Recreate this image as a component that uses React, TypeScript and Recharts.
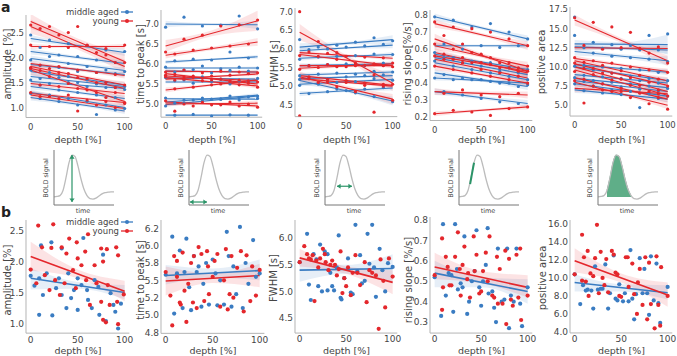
import React from "react";
import { Area, ComposedChart, Line, Scatter, XAxis, YAxis } from "recharts";

const BLUE = "#3a7cc2";
const RED = "#e4272c";
const GREEN = "#2b9468";
const AXIS = "#b4b4b4";
const TXT = "#454545";
const FONT = "'DejaVu Sans', sans-serif";

const DEPTH_TICKS = [0, 50, 100];
// subjects alternate between these two sampling grids
const DEPTH_A = [0, 20, 40, 60, 80, 100];
const DEPTH_B = [10, 30, 50, 70, 90];

// ---------- row a: one fit per subject [at 0 %, at 100 %, band half-width at 0 / 50 / 100 %]
const ampMidFits = [
  [2.38, 2.1, 0.07, 0.03, 0.07], [2.12, 1.88, 0.06, 0.03, 0.06], [1.98, 1.74, 0.06, 0.03, 0.06],
  [1.86, 1.66, 0.05, 0.025, 0.05], [1.72, 1.45, 0.06, 0.03, 0.06], [1.62, 1.42, 0.05, 0.025, 0.05],
  [1.52, 1.38, 0.05, 0.025, 0.05], [1.42, 1.18, 0.06, 0.03, 0.06], [1.3, 1.0, 0.06, 0.03, 0.06],
  [1.2, 0.93, 0.06, 0.03, 0.06],
];
const ampMidPoints = [
  [2.45, 2.35, 2.28, 2.24, 2.15, 2.12], [2.2, 2.05, 2.02, 1.95, 1.9], [1.95, 2.02, 1.88, 1.82, 1.75, 1.72],
  [1.84, 1.8, 1.72, 1.7, 1.68], [1.75, 1.7, 1.62, 1.55, 1.5, 1.42], [1.58, 1.6, 1.5, 1.47, 1.4],
  [1.55, 1.48, 1.5, 1.42, 1.4, 1.36], [1.45, 1.35, 1.3, 1.25, 1.2], [1.28, 1.25, 1.18, 1.12, 1.05, 0.98],
  [1.18, 1.12, 1.05, 0.86, 0.95],
];
const ampYoungFits = [
  [2.72, 1.92, 0.15, 0.06, 0.15], [2.62, 1.82, 0.14, 0.06, 0.14], [2.22, 2.22, 0.05, 0.02, 0.05],
  [1.88, 1.64, 0.06, 0.03, 0.06], [1.82, 1.45, 0.07, 0.03, 0.07], [1.78, 1.38, 0.07, 0.03, 0.07],
  [1.75, 1.12, 0.1, 0.04, 0.1], [1.48, 1.28, 0.06, 0.03, 0.06], [1.28, 1.1, 0.05, 0.025, 0.05],
  [1.25, 0.98, 0.08, 0.04, 0.08],
];
const ampYoungPoints = [
  [2.65, 2.62, 2.5, 2.25, 2.05, 1.9], [2.58, 2.45, 2.62, 2.1, 1.9], [2.25, 2.22, 2.2, 2.24, 2.18, 2.25],
  [1.85, 1.82, 1.75, 1.7, 1.66], [1.8, 1.78, 1.68, 1.58, 1.5, 1.45], [1.74, 1.7, 1.6, 1.5, 1.4],
  [1.78, 1.62, 1.48, 1.35, 1.2, 1.1], [1.45, 1.42, 1.38, 1.3, 1.3], [1.3, 1.22, 1.25, 1.15, 1.12, 1.08],
  [1.22, 1.18, 0.93, 1.05, 1.0],
];

const ttpMidFits = [
  [7.0, 6.98, 0.08, 0.03, 0.1], [6.05, 6.18, 0.05, 0.02, 0.05], [5.9, 5.9, 0.04, 0.02, 0.04],
  [5.82, 5.8, 0.04, 0.02, 0.04], [5.65, 5.62, 0.04, 0.02, 0.04], [5.55, 5.55, 0.04, 0.02, 0.04],
  [5.13, 5.12, 0.03, 0.015, 0.03], [5.05, 5.22, 0.05, 0.02, 0.05], [4.98, 5.2, 0.05, 0.02, 0.05],
  [4.72, 4.72, 0.02, 0.01, 0.02],
];
const ttpMidPoints = [
  [6.92, 7.17, 6.95, 6.97, 7.2, 6.88], [6.08, 6.12, 6.1, 6.3, 6.15], [5.92, 5.85, 5.95, 5.88, 5.92, 5.9],
  [5.8, 5.86, 5.78, 5.84, 5.82], [5.66, 5.6, 5.68, 5.62, 5.58, 5.64], [5.58, 5.52, 5.56, 5.5, 5.57],
  [5.15, 5.1, 5.15, 5.12, 5.1, 5.14], [5.02, 5.1, 5.12, 5.2, 5.18], [4.95, 5.02, 5.08, 5.12, 5.16, 5.2],
  [4.72, 4.74, 4.7, 4.73, 4.72],
];
const ttpYoungFits = [
  [6.45, 7.08, 0.15, 0.07, 0.25], [6.22, 6.55, 0.08, 0.04, 0.1], [5.82, 5.8, 0.05, 0.02, 0.05],
  [5.76, 5.5, 0.06, 0.03, 0.06], [5.7, 5.58, 0.05, 0.02, 0.05], [5.62, 5.75, 0.05, 0.02, 0.05],
  [5.66, 5.45, 0.06, 0.03, 0.06], [5.35, 5.6, 0.06, 0.03, 0.06], [5.05, 4.95, 0.05, 0.02, 0.05],
  [5.0, 5.02, 0.06, 0.03, 0.06],
];
const ttpYoungPoints = [
  [6.3, 6.62, 6.72, 6.95, 6.98, 7.1], [6.25, 6.35, 6.4, 6.45, 6.5], [5.8, 5.85, 5.78, 5.82, 5.8, 5.78],
  [5.74, 5.7, 5.6, 5.58, 5.52], [5.72, 5.68, 5.65, 5.62, 5.6, 5.55], [5.6, 5.66, 5.7, 5.72, 5.76],
  [5.68, 5.62, 5.58, 5.5, 5.48, 5.42], [5.38, 5.42, 5.48, 5.55, 5.58], [5.08, 5.0, 5.04, 4.98, 4.95, 4.92],
  [4.82, 4.95, 4.98, 5.05, 5.0],
];

const fwhmMidFits = [
  [6.05, 6.25, 0.1, 0.04, 0.12], [5.95, 6.1, 0.08, 0.03, 0.08], [5.75, 5.85, 0.07, 0.03, 0.07],
  [5.55, 5.6, 0.06, 0.03, 0.06], [5.3, 5.38, 0.06, 0.03, 0.06], [5.2, 5.28, 0.06, 0.03, 0.06],
  [5.05, 5.18, 0.06, 0.03, 0.06], [4.8, 4.95, 0.07, 0.03, 0.07], [5.15, 4.6, 0.1, 0.04, 0.12],
];
const fwhmMidPoints = [
  [6.25, 6.05, 6.1, 6.18, 6.3, 6.22], [5.98, 6.0, 6.05, 6.08, 6.12], [5.72, 5.78, 5.8, 5.82, 5.86, 5.85],
  [5.55, 5.58, 5.6, 5.55, 5.62], [5.28, 5.32, 5.35, 5.32, 5.4, 5.38], [5.22, 5.18, 5.25, 5.28, 5.3],
  [5.02, 5.08, 5.1, 5.12, 5.2, 5.16], [4.8, 4.85, 4.88, 4.92, 4.96], [5.18, 5.05, 4.92, 4.82, 4.72, 4.58],
];
const fwhmYoungFits = [
  [6.45, 5.08, 0.22, 0.07, 0.22], [5.9, 5.75, 0.06, 0.03, 0.06], [5.85, 5.55, 0.07, 0.03, 0.07],
  [5.55, 5.55, 0.05, 0.02, 0.05], [5.48, 5.6, 0.06, 0.03, 0.06], [5.28, 5.02, 0.07, 0.03, 0.07],
  [5.25, 4.65, 0.14, 0.06, 0.14], [5.2, 5.0, 0.06, 0.03, 0.06],
];
const fwhmYoungPoints = [
  [7.0, 6.2, 5.9, 5.55, 5.3, 5.05], [5.92, 5.88, 5.8, 5.78, 5.76], [5.82, 5.8, 5.72, 5.62, 5.58, 5.52],
  [5.55, 5.58, 5.52, 5.56, 5.55], [5.45, 5.5, 5.52, 5.58, 5.6, 5.62], [5.25, 5.18, 5.15, 5.08, 5.05],
  [4.2, 5.1, 4.98, 4.85, 4.3, 4.62], [5.2, 5.12, 5.1, 5.02, 5.0],
];

const slopeMidFits = [
  [0.79, 0.66, 0.02, 0.01, 0.02], [0.62, 0.62, 0.015, 0.007, 0.015], [0.57, 0.48, 0.02, 0.01, 0.02],
  [0.55, 0.45, 0.02, 0.01, 0.02], [0.52, 0.42, 0.02, 0.01, 0.02], [0.46, 0.38, 0.02, 0.01, 0.02],
  [0.43, 0.4, 0.015, 0.007, 0.015], [0.35, 0.28, 0.02, 0.01, 0.02],
];
const slopeMidPoints = [
  [0.79, 0.77, 0.73, 0.75, 0.7, 0.66], [0.63, 0.6, 0.62, 0.61, 0.62], [0.58, 0.55, 0.53, 0.52, 0.49, 0.48],
  [0.55, 0.52, 0.5, 0.47, 0.46], [0.53, 0.5, 0.48, 0.46, 0.44, 0.42], [0.45, 0.43, 0.42, 0.4, 0.38],
  [0.43, 0.42, 0.42, 0.41, 0.4, 0.39], [0.35, 0.33, 0.31, 0.29, 0.28],
];
const slopeYoungFits = [
  [0.75, 0.62, 0.025, 0.01, 0.025], [0.66, 0.47, 0.03, 0.012, 0.03], [0.62, 0.5, 0.025, 0.01, 0.025],
  [0.58, 0.46, 0.025, 0.01, 0.025], [0.56, 0.47, 0.02, 0.01, 0.02], [0.54, 0.43, 0.025, 0.01, 0.025],
  [0.5, 0.4, 0.025, 0.01, 0.025], [0.35, 0.33, 0.02, 0.01, 0.02], [0.22, 0.26, 0.015, 0.007, 0.015],
];
const slopeYoungPoints = [
  [0.76, 0.73, 0.72, 0.7, 0.66, 0.62], [0.68, 0.63, 0.57, 0.52, 0.49], [0.63, 0.6, 0.58, 0.55, 0.52, 0.5],
  [0.57, 0.55, 0.52, 0.49, 0.47], [0.56, 0.54, 0.52, 0.51, 0.49, 0.47], [0.54, 0.52, 0.48, 0.46, 0.44],
  [0.5, 0.48, 0.46, 0.44, 0.42, 0.4], [0.34, 0.36, 0.33, 0.32, 0.34], [0.22, 0.24, 0.23, 0.21, 0.25, 0.26],
];

const areaMidFits = [
  [13.0, 12.9, 0.5, 0.3, 1.3], [12.6, 12.2, 0.4, 0.2, 0.5], [12.0, 10.8, 0.5, 0.25, 0.6],
  [10.3, 9.3, 0.4, 0.2, 0.4], [10.0, 8.2, 0.4, 0.2, 0.4], [9.0, 7.9, 0.35, 0.15, 0.35],
  [8.5, 7.3, 0.35, 0.15, 0.35], [8.2, 6.8, 0.35, 0.15, 0.35], [7.8, 6.2, 0.35, 0.15, 0.35],
  [7.0, 5.8, 0.4, 0.2, 0.4],
];
const areaMidPoints = [
  [16.5, 13.2, 12.9, 12.8, 14.1, 14.3], [12.5, 12.4, 12.3, 12.2, 12.2], [14.1, 11.8, 11.4, 11.2, 11.0, 10.7],
  [10.2, 10.0, 9.8, 9.6, 9.3], [10.1, 9.6, 9.2, 8.8, 8.5, 8.2], [8.9, 8.7, 8.5, 8.2, 7.9],
  [8.6, 8.2, 8.0, 7.8, 7.5, 7.2], [8.1, 7.8, 7.4, 7.1, 6.9], [7.8, 7.5, 7.0, 6.8, 6.5, 6.2],
  [6.9, 6.6, 6.4, 4.7, 5.9],
];
const areaYoungFits = [
  [16.1, 10.8, 0.7, 0.3, 0.7], [12.5, 12.4, 0.35, 0.15, 0.35], [11.1, 9.4, 0.4, 0.2, 0.4],
  [10.8, 8.2, 0.45, 0.2, 0.45], [10.4, 7.6, 0.45, 0.2, 0.45], [10.0, 6.8, 0.5, 0.2, 0.5],
  [9.6, 6.3, 0.5, 0.2, 0.5], [8.6, 5.8, 0.45, 0.2, 0.45], [8.0, 5.0, 0.5, 0.2, 0.5],
  [7.2, 6.5, 0.5, 0.2, 0.5],
];
const areaYoungPoints = [
  [16.4, 15.8, 15.2, 14.5, 11.8, 10.5], [12.8, 12.3, 12.5, 12.4, 12.6], [11.2, 10.8, 10.5, 10.0, 9.6, 9.3],
  [10.6, 10.2, 9.5, 8.9, 8.4], [10.5, 9.8, 9.2, 8.6, 8.0, 7.5], [9.8, 9.2, 8.4, 7.6, 7.0],
  [9.4, 9.0, 8.3, 7.6, 6.8, 6.2], [8.4, 7.8, 7.2, 6.6, 6.0], [8.2, 7.5, 6.8, 6.0, 5.2, 4.5],
  [5.3, 7.0, 6.8, 6.6, 6.5],
];

// ---------- row b: group fits [at 0 %, at 100 %] with band [lo, hi] at 0 / 50 / 100 %
const ampGroupMid = [1.74, 1.51];
const ampGroupMidBand = [[1.56, 1.9], [1.57, 1.68], [1.4, 1.63]];
const ampGroupYoung = [2.09, 1.53];
const ampGroupYoungBand = [[1.86, 2.33], [1.74, 1.88], [1.37, 1.7]];
const ampSubjMid = [
  [11, 2.27], [22, 2.32], [33, 2.22], [56, 2.39], [77, 2.12], [0, 1.78], [9, 1.74], [17, 1.82], [30, 1.74],
  [40, 1.82], [50, 1.74], [54, 1.63], [68, 1.71], [88, 1.31], [96, 1.33], [9, 1.15], [23, 1.14], [33, 1.47],
  [38, 1.26], [50, 1.23], [61, 1.39], [65, 1.26], [73, 1.15], [80, 1.05], [93, 0.93], [13, 1.47], [43, 1.42],
  [27, 1.58], [60, 1.55], [85, 1.5], [72, 1.6], [4, 1.62], [46, 1.55], [90, 1.2],
];
const ampSubjYoung = [
  [8, 2.59], [24, 2.61], [12, 2.24], [22, 2.23], [33, 2.24], [41, 2.38], [49, 2.32], [58, 2.17], [61, 2.45],
  [75, 2.22], [81, 2.21], [91, 2.24], [93, 2.11], [38, 2.14], [50, 2.06], [54, 1.95], [45, 1.87], [68, 1.95],
  [77, 2.01], [0, 1.88], [6, 1.66], [15, 1.79], [26, 1.71], [36, 1.66], [48, 1.58], [59, 1.71], [70, 1.66],
  [82, 1.63], [99, 1.48], [92, 1.36], [84, 1.31], [75, 1.36], [63, 1.31], [77, 1.07], [80, 1.03], [93, 1.0],
  [31, 1.47], [20, 1.55],
];

const ttpGroupMid = [5.57, 5.64];
const ttpGroupMidBand = [[5.44, 5.72], [5.54, 5.67], [5.5, 5.8]];
const ttpGroupYoung = [5.49, 5.57];
const ttpGroupYoungBand = [[5.28, 5.7], [5.46, 5.6], [5.4, 5.74]];
const ttpSubjMid = [
  [0, 5.58], [7, 6.13], [9, 5.02], [12, 5.6], [15, 5.93], [18, 5.1], [22, 6.1], [25, 5.4], [27, 5.07],
  [30, 5.85], [33, 5.62], [35, 5.7], [38, 5.12], [40, 5.45], [43, 5.75], [46, 5.15], [50, 5.8], [55, 5.14],
  [58, 5.5], [62, 5.15], [65, 6.2], [67, 5.85], [70, 5.12], [72, 5.7], [75, 5.3], [79, 6.27], [82, 5.1],
  [85, 5.75], [88, 5.45], [93, 6.08], [96, 5.55], [100, 5.6], [20, 5.62], [53, 5.6],
];
const ttpSubjYoung = [
  [0, 5.62], [5, 5.28], [7, 4.85], [9, 5.85], [12, 5.78], [15, 5.18], [16, 5.15], [18, 5.9], [20, 5.35],
  [22, 4.9], [24, 5.45], [27, 5.75], [29, 5.18], [30, 5.85], [33, 5.1], [35, 5.98], [38, 5.88], [41, 5.2],
  [44, 5.92], [46, 5.3], [50, 5.55], [52, 5.78], [55, 5.88], [58, 5.12], [62, 5.5], [64, 5.95], [66, 5.08],
  [70, 5.85], [72, 5.25], [76, 5.68], [80, 5.92], [83, 5.05], [86, 5.86], [90, 5.2], [92, 5.7], [96, 5.28],
  [100, 5.65], [45, 5.7], [68, 5.3], [12, 5.55],
];

const fwhmGroupMid = [5.4, 5.43];
const fwhmGroupMidBand = [[5.18, 5.62], [5.33, 5.5], [5.15, 5.7]];
const fwhmGroupYoung = [5.63, 5.17];
const fwhmGroupYoungBand = [[5.47, 5.8], [5.33, 5.47], [4.95, 5.4]];
const fwhmSubjMid = [
  [0, 5.55], [8, 6.08], [10, 5.13], [12, 4.84], [15, 5.7], [18, 5.6], [20, 5.1], [22, 5.88], [24, 5.0],
  [27, 5.75], [30, 5.02], [33, 5.35], [35, 5.1], [37, 5.02], [40, 5.45], [42, 6.05], [44, 4.88], [45, 4.85],
  [48, 5.25], [52, 5.62], [55, 4.98], [57, 4.95], [60, 6.25], [62, 5.38], [65, 5.68], [67, 5.15], [70, 5.2],
  [73, 6.08], [75, 5.52], [78, 6.25], [80, 5.45], [82, 4.9], [86, 5.8], [89, 5.4], [92, 5.0], [95, 5.53],
  [100, 5.46], [30, 5.7],
];
const fwhmSubjYoung = [
  [0, 5.55], [5, 5.85], [8, 5.7], [10, 5.62], [12, 5.6], [16, 4.82], [18, 5.58], [20, 5.45], [22, 5.62],
  [25, 5.8], [27, 5.7], [28, 5.55], [31, 5.4], [33, 5.5], [35, 5.58], [38, 5.5], [40, 5.3], [42, 5.42],
  [44, 5.75], [46, 4.97], [50, 5.1], [52, 5.45], [55, 4.93], [57, 5.35], [60, 5.68], [62, 5.35], [65, 5.12],
  [70, 5.55], [72, 4.8], [75, 5.4], [78, 5.35], [82, 5.3], [85, 4.3], [87, 5.6], [90, 5.2], [92, 4.7],
  [96, 5.62], [100, 5.28], [14, 5.68], [48, 5.25],
];

const slopeGroupMid = [0.54, 0.45];
const slopeGroupMidBand = [[0.47, 0.6], [0.47, 0.52], [0.39, 0.51]];
const slopeGroupYoung = [0.57, 0.47];
const slopeGroupYoungBand = [[0.51, 0.64], [0.49, 0.55], [0.42, 0.53]];
const slopeSubjMid = [
  [0, 0.52], [7, 0.33], [9, 0.78], [12, 0.43], [15, 0.54], [18, 0.53], [20, 0.35], [22, 0.78], [25, 0.46],
  [28, 0.49], [30, 0.47], [32, 0.72], [35, 0.34], [37, 0.4], [40, 0.5], [43, 0.55], [45, 0.75], [48, 0.47],
  [50, 0.38], [55, 0.58], [57, 0.76], [58, 0.44], [62, 0.45], [64, 0.37], [66, 0.3], [68, 0.66], [72, 0.4],
  [75, 0.41], [78, 0.66], [80, 0.27], [82, 0.43], [85, 0.4], [88, 0.66], [92, 0.39], [94, 0.28], [100, 0.47],
  [24, 0.56], [52, 0.5],
];
const slopeSubjYoung = [
  [0, 0.53], [8, 0.71], [8, 0.36], [9, 0.47], [12, 0.62], [14, 0.57], [16, 0.48], [18, 0.48], [22, 0.62],
  [25, 0.74], [27, 0.56], [28, 0.43], [30, 0.58], [32, 0.67], [36, 0.54], [38, 0.42], [42, 0.72], [43, 0.55],
  [45, 0.63], [48, 0.44], [52, 0.55], [55, 0.64], [57, 0.5], [59, 0.72], [62, 0.43], [64, 0.42], [67, 0.62],
  [68, 0.39], [70, 0.56], [73, 0.39], [76, 0.65], [77, 0.29], [80, 0.61], [82, 0.41], [84, 0.38], [88, 0.63],
  [90, 0.42], [92, 0.66], [93, 0.31], [100, 0.43], [35, 0.51], [50, 0.45],
];

const areaGroupMid = [9.5, 8.35];
const areaGroupMidBand = [[8.5, 10.4], [8.5, 9.3], [7.6, 9.2]];
const areaGroupYoung = [11.9, 8.1];
const areaGroupYoungBand = [[10.6, 13.3], [9.5, 10.5], [6.8, 9.5]];
const areaSubjMid = [
  [0, 10.4], [6, 7.1], [9, 9.2], [12, 8.6], [14, 8.7], [18, 8.6], [20, 6.6], [22, 11.3], [25, 8.7], [28, 8.8],
  [33, 11.5], [36, 6.6], [38, 8.3], [42, 12.5], [44, 7.7], [46, 7.5], [52, 7.4], [54, 8.3], [58, 7.4],
  [60, 13.1], [62, 7.7], [64, 5.4], [66, 8.2], [70, 12.2], [73, 8.3], [75, 11.0], [78, 8.3], [80, 5.9],
  [82, 12.4], [85, 7.5], [88, 11.6], [90, 7.2], [92, 5.0], [100, 9.0], [30, 8.8], [48, 9.3],
];
const areaSubjYoung = [
  [0, 10.4], [8, 14.8], [8, 9.7], [10, 12.3], [14, 13.0], [15, 8.0], [17, 10.5], [20, 10.2], [22, 12.2],
  [24, 15.9], [26, 8.3], [28, 12.9], [30, 10.0], [32, 9.2], [34, 12.1], [36, 8.4], [40, 13.0], [42, 12.6],
  [44, 10.6], [48, 8.0], [50, 7.9], [55, 12.3], [57, 12.3], [58, 9.0], [62, 11.6], [64, 8.2], [67, 6.0],
  [68, 9.5], [70, 11.0], [73, 7.0], [76, 12.3], [78, 5.4], [80, 11.7], [82, 7.1], [86, 4.4], [88, 12.4],
  [90, 7.0], [92, 4.7], [93, 11.2], [100, 8.0], [12, 9.6], [46, 10.4],
];

// ---------- y ticks
const ampTicksA = [1.0, 1.5, 2.0, 2.5];
const ampLabelsA = ["1.0", "1.5", "2.0", "2.5"];
const ttpTicksA = [5.0, 5.5, 6.0, 6.5, 7.0];
const ttpLabelsA = ["5.0", "5.5", "6.0", "6.5", "7.0"];
const fwhmTicksA = [4.5, 5.0, 5.5, 6.0, 6.5, 7.0];
const fwhmLabelsA = ["4.5", "5.0", "5.5", "6.0", "6.5", "7.0"];
const slopeTicksA = [0.2, 0.3, 0.4, 0.5, 0.6, 0.7, 0.8];
const slopeLabelsA = ["0.2", "0.3", "0.4", "0.5", "0.6", "0.7", "0.8"];
const areaTicksA = [5.0, 7.5, 10.0, 12.5, 15.0, 17.5];
const areaLabelsA = ["5.0", "7.5", "10.0", "12.5", "15.0", "17.5"];

const ampTicksB = [1.0, 1.5, 2.0, 2.5];
const ampLabelsB = ["1.0", "1.5", "2.0", "2.5"];
const ttpTicksB = [4.75, 5.0, 5.25, 5.5, 5.75, 6.0, 6.25];
const ttpLabelsB = ["4.8", "5.0", "5.2", "5.5", "5.8", "6.0", "6.2"];
const fwhmTicksB = [4.5, 5.0, 5.5, 6.0];
const fwhmLabelsB = ["4.5", "5.0", "5.5", "6.0"];
const slopeTicksB = [0.3, 0.4, 0.5, 0.6, 0.7, 0.8];
const slopeLabelsB = ["0.3", "0.4", "0.5", "0.6", "0.7", "0.8"];
const areaTicksB = [4, 6, 8, 10, 12, 14, 16];
const areaLabelsB = ["4.0", "6.0", "8.0", "10.0", "12.0", "14.0", "16.0"];

// ---------- HRF sketch
const HRF_TIME = [0, 1, 2, 3, 4, 5, 6, 7, 8, 9, 10, 11, 12, 13, 14, 15, 16, 17, 18, 19, 20];
const HRF_SIGNAL = [0, 0.01, 0.03, 0.15, 0.45, 0.8, 0.98, 0.95, 0.72, 0.42, 0.18, 0.03, -0.04, -0.05, -0.03, 0.02, 0.07, 0.1, 0.11, 0.12, 0.12];
const peakArrow = [{ t: 6, v: 0.98 }, { t: 6, v: -0.12 }];
const ttpArrow = [{ t: 0.3, v: -0.12 }, { t: 6, v: -0.12 }];
const fwhmArrow = [{ t: 4.0, v: 0.25 }, { t: 9.0, v: 0.25 }];
const slopeSegment = [{ t: 3.7, v: 0.3 }, { t: 5.0, v: 0.8 }];
const AREA_SPAN = [3, 11];

type Fit = { y0: number; y100: number; band: number[][] };
type Pt = { depth: number; v: number };

type PanelSpec = {
  x0: number; x100: number;
  ref: number[]; // value, pixel, value, pixel
  domain: number[];
  ticks: number[]; labels: string[];
  title: string; titleX: number; titleY: number;
  mid: Fit[]; young: Fit[];
  midPts: Pt[]; youngPts: Pt[];
};

function subjectFits(rows: number[][]): Fit[] {
  return rows.map(([y0, y100, w0, w50, w100]) => {
    const c = (y0 + y100) / 2;
    return { y0, y100, band: [[y0 - w0, y0 + w0], [c - w50, c + w50], [y100 - w100, y100 + w100]] };
  });
}

function subjectPoints(sets: number[][]): Pt[] {
  return sets.flatMap((vals, i) => (i % 2 === 0 ? DEPTH_A : DEPTH_B).map((depth, k) => ({ depth, v: vals[k] })));
}

function groupFit(line: number[], band: number[][]): Fit[] {
  return [{ y0: line[0], y100: line[1], band }];
}

function pairs(list: number[][]): Pt[] {
  return list.map(([depth, v]) => ({ depth, v }));
}

function buildRows(mid: Fit[], young: Fit[]) {
  return [0, 50, 100].map((depth, k) => {
    const row: Record<string, unknown> = { depth };
    ([["m", mid], ["y", young]] as [string, Fit[]][]).forEach(([p, fits]) =>
      fits.forEach((f, i) => {
        row[`${p}${i}`] = k === 0 ? f.y0 : k === 2 ? f.y100 : null;
        row[`${p}b${i}`] = f.band[k];
      }),
    );
    return row;
  });
}

function DepthPanel({ p, big }: { p: PanelSpec; big: boolean }) {
  const pxX = (p.x100 - p.x0) / 100;
  const [v1, py1, v2, py2] = p.ref;
  const pxY = (py2 - py1) / (v1 - v2);
  const left = p.x0 - 5 * pxX;
  const plotW = 110 * pxX;
  const top = py1 - (p.domain[1] - v1) * pxY;
  const plotH = (p.domain[1] - p.domain[0]) * pxY;
  const YW = 34;
  const XH = 18;
  const MT = 4;
  const MR = 4;
  const rows = buildRows(p.mid, p.young);
  const lw = big ? 1.6 : 1.15;
  const r = big ? 2.1 : 1.6;
  const tick = { fill: TXT, fontSize: big ? 9 : 8.5, fontFamily: FONT };
  const dot = (color: string) => (props: any) => <circle cx={props.cx} cy={props.cy} r={r} fill={color} />;

  return (
    <>
      <div style={{ position: "absolute", left: left - YW, top: top - MT }}>
        <ComposedChart width={plotW + YW + MR} height={plotH + MT + XH} data={rows} margin={{ top: MT, right: MR, bottom: 0, left: 0 }}>
          <XAxis
            dataKey="depth" type="number" domain={[-5, 105]} ticks={DEPTH_TICKS} allowDataOverflow
            height={XH} tick={tick} tickSize={0} tickMargin={big ? 3 : 6}
            axisLine={{ stroke: AXIS }} tickLine={false}
          />
          <YAxis
            type="number" domain={p.domain} ticks={p.ticks} allowDataOverflow width={YW}
            tickFormatter={(v: number) => p.labels[p.ticks.indexOf(v)] ?? String(v)}
            tick={tick} tickSize={0} tickMargin={2}
            axisLine={{ stroke: AXIS }} tickLine={false}
          />
          {p.mid.map((_, i) => (
            <Area key={`mb${i}`} dataKey={`mb${i}`} type="monotone" stroke="none" fill={BLUE} fillOpacity={0.13} isAnimationActive={false} />
          ))}
          {p.young.map((_, i) => (
            <Area key={`yb${i}`} dataKey={`yb${i}`} type="monotone" stroke="none" fill={RED} fillOpacity={0.13} isAnimationActive={false} />
          ))}
          <Scatter data={p.midPts} dataKey="v" fill={BLUE} shape={dot(BLUE)} isAnimationActive={false} />
          <Scatter data={p.youngPts} dataKey="v" fill={RED} shape={dot(RED)} isAnimationActive={false} />
          {p.mid.map((_, i) => (
            <Line key={`m${i}`} dataKey={`m${i}`} stroke={BLUE} strokeWidth={lw} dot={false} connectNulls isAnimationActive={false} />
          ))}
          {p.young.map((_, i) => (
            <Line key={`y${i}`} dataKey={`y${i}`} stroke={RED} strokeWidth={lw} dot={false} connectNulls isAnimationActive={false} />
          ))}
        </ComposedChart>
      </div>
      <div
        style={{
          position: "absolute", left: p.titleX, top: p.titleY, transform: "translate(-50%, -50%) rotate(-90deg)",
          whiteSpace: "nowrap", fontSize: 10, color: TXT,
        }}
      >
        {p.title}
      </div>
      <div
        style={{
          position: "absolute", left: (p.x0 + p.x100) / 2, top: big ? 350 : 139, transform: "translate(-50%, -50%)",
          whiteSpace: "nowrap", fontSize: 9.5, color: TXT,
        }}
      >
        depth [%]
      </div>
    </>
  );
}

function Legend({ top }: { top: number }) {
  const item = (label: string, color: string, y: number) => (
    <div style={{ position: "absolute", right: 677 - 133, top: y, display: "flex", alignItems: "center", gap: 2 }}>
      <span style={{ fontSize: 8.5, color: TXT }}>{label}</span>
      <svg width={12} height={6}>
        <line x1={0} y1={3} x2={12} y2={3} stroke={color} strokeWidth={1.3} />
        <circle cx={6} cy={3} r={2} fill={color} />
      </svg>
    </div>
  );
  return (
    <>
      {item("middle aged", BLUE, top)}
      {item("young", RED, top + 9)}
    </>
  );
}

function arrowHead(seg: { t: number; v: number }[]) {
  return (props: any) => {
    const { cx, cy, payload } = props;
    if (seg === slopeSegment) return <g />;
    const other = seg.find((s) => s.t !== payload.t || s.v !== payload.v) ?? seg[0];
    const dx = Math.sign(payload.t - other.t);
    const dy = -Math.sign(payload.v - other.v);
    const s = 2.6;
    // triangle tip at the end point, pointing away from the other end
    const px = -dy;
    const py = dx;
    const bx = cx - dx * s * 1.4;
    const by = cy - dy * s * 1.4;
    return (
      <polygon
        points={`${cx},${cy} ${bx + px * s},${by + py * s} ${bx - px * s},${by - py * s}`}
        fill={GREEN}
      />
    );
  };
}

function HrfSketch({ x, kind }: { x: number; kind: "amp" | "ttp" | "fwhm" | "slope" | "area" }) {
  const rows = HRF_TIME.map((t, i) => ({
    t,
    v: HRF_SIGNAL[i],
    fill: kind === "area" && t >= AREA_SPAN[0] && t <= AREA_SPAN[1] ? HRF_SIGNAL[i] : null,
  }));
  const seg = kind === "amp" ? peakArrow : kind === "ttp" ? ttpArrow : kind === "fwhm" ? fwhmArrow : kind === "slope" ? slopeSegment : null;
  return (
    <>
      <div style={{ position: "absolute", left: x - 1, top: 150 }}>
        <ComposedChart width={62} height={56} data={rows} margin={{ top: 0, right: 1, bottom: 0, left: 0 }}>
          <XAxis dataKey="t" type="number" domain={[0, 20]} allowDataOverflow tick={false} tickLine={false} height={1} axisLine={{ stroke: "#777" }} />
          <YAxis type="number" domain={[-0.19, 1.1]} allowDataOverflow tick={false} tickLine={false} width={1} axisLine={{ stroke: "#777" }} />
          {kind === "area" && (
            <Area dataKey="fill" type="monotone" baseValue={0} stroke="#3c9a70" strokeWidth={0.8} fill="#5fae88" fillOpacity={1} isAnimationActive={false} />
          )}
          <Line dataKey="v" type="monotone" stroke="#bcbcbc" strokeWidth={1.3} dot={false} isAnimationActive={false} />
          {seg && (
            <Scatter
              data={seg} dataKey="v" line={{ stroke: GREEN, strokeWidth: kind === "slope" ? 2 : 1.2 }}
              shape={arrowHead(seg)} isAnimationActive={false}
            />
          )}
        </ComposedChart>
      </div>
      <div style={{ position: "absolute", left: x - 8, top: 178, transform: "translate(-50%, -50%) rotate(-90deg)", fontSize: 6.5, color: TXT, whiteSpace: "nowrap" }}>
        BOLD signal
      </div>
      <div style={{ position: "absolute", left: x + 29, top: 211, transform: "translate(-50%, -50%)", fontSize: 6.5, color: TXT }}>
        time
      </div>
    </>
  );
}

const rowA: PanelSpec[] = [
  {
    x0: 31, x100: 125, ref: [2.5, 32, 1.0, 107], domain: [0.8, 2.85], ticks: ampTicksA, labels: ampLabelsA,
    title: "amplitude [%]", titleX: 6.5, titleY: 64,
    mid: subjectFits(ampMidFits), young: subjectFits(ampYoungFits),
    midPts: subjectPoints(ampMidPoints), youngPts: subjectPoints(ampYoungPoints),
  },
  {
    x0: 166, x100: 258, ref: [7.0, 24, 5.0, 104], domain: [4.67, 7.35], ticks: ttpTicksA, labels: ttpLabelsA,
    title: "time to peak [s]", titleX: 139.5, titleY: 64,
    mid: subjectFits(ttpMidFits), young: subjectFits(ttpYoungFits),
    midPts: subjectPoints(ttpMidPoints), youngPts: subjectPoints(ttpYoungPoints),
  },
  {
    x0: 300, x100: 393, ref: [7.0, 12, 4.5, 105], domain: [4.18, 7.1], ticks: fwhmTicksA, labels: fwhmLabelsA,
    title: "FWHM [s]", titleX: 274, titleY: 64,
    mid: subjectFits(fwhmMidFits), young: subjectFits(fwhmYoungFits),
    midPts: subjectPoints(fwhmMidPoints), youngPts: subjectPoints(fwhmYoungPoints),
  },
  {
    x0: 435, x100: 528, ref: [0.8, 15, 0.2, 117], domain: [0.18, 0.83], ticks: slopeTicksA, labels: slopeLabelsA,
    title: "rising slope[%/s]", titleX: 406.5, titleY: 64,
    mid: subjectFits(slopeMidFits), young: subjectFits(slopeYoungFits),
    midPts: subjectPoints(slopeMidPoints), youngPts: subjectPoints(slopeYoungPoints),
  },
  {
    x0: 575, x100: 668, ref: [17.5, 9, 5.0, 105], domain: [3.6, 17.8], ticks: areaTicksA, labels: areaLabelsA,
    title: "positive area", titleX: 541, titleY: 62,
    mid: subjectFits(areaMidFits), young: subjectFits(areaYoungFits),
    midPts: subjectPoints(areaMidPoints), youngPts: subjectPoints(areaYoungPoints),
  },
];

const rowB: PanelSpec[] = [
  {
    x0: 31, x100: 125, ref: [2.5, 231, 1.0, 324], domain: [0.855, 2.68], ticks: ampTicksB, labels: ampLabelsB,
    title: "amplitude [%]", titleX: 6.5, titleY: 280,
    mid: groupFit(ampGroupMid, ampGroupMidBand), young: groupFit(ampGroupYoung, ampGroupYoungBand),
    midPts: pairs(ampSubjMid), youngPts: pairs(ampSubjYoung),
  },
  {
    x0: 166, x100: 260, ref: [6.25, 228, 4.75, 332], domain: [4.735, 6.37], ticks: ttpTicksB, labels: ttpLabelsB,
    title: "time to peak [s]", titleX: 140, titleY: 280,
    mid: groupFit(ttpGroupMid, ttpGroupMidBand), young: groupFit(ttpGroupYoung, ttpGroupYoungBand),
    midPts: pairs(ttpSubjMid), youngPts: pairs(ttpSubjYoung),
  },
  {
    x0: 300, x100: 393, ref: [6.0, 238, 4.5, 318], domain: [4.22, 6.34], ticks: fwhmTicksB, labels: fwhmLabelsB,
    title: "FWHM [s]", titleX: 273, titleY: 278,
    mid: groupFit(fwhmGroupMid, fwhmGroupMidBand), young: groupFit(fwhmGroupYoung, fwhmGroupYoungBand),
    midPts: pairs(fwhmSubjMid), youngPts: pairs(fwhmSubjYoung),
  },
  {
    x0: 435, x100: 528, ref: [0.8, 220, 0.3, 322], domain: [0.246, 0.815], ticks: slopeTicksB, labels: slopeLabelsB,
    title: "rising slope [%/s]", titleX: 408, titleY: 280,
    mid: groupFit(slopeGroupMid, slopeGroupMidBand), young: groupFit(slopeGroupYoung, slopeGroupYoungBand),
    midPts: pairs(slopeSubjMid), youngPts: pairs(slopeSubjYoung),
  },
  {
    x0: 575, x100: 668, ref: [16, 224, 4, 332], domain: [3.89, 16.44], ticks: areaTicksB, labels: areaLabelsB,
    title: "positive area", titleX: 542, titleY: 278,
    mid: groupFit(areaGroupMid, areaGroupMidBand), young: groupFit(areaGroupYoung, areaGroupYoungBand),
    midPts: pairs(areaSubjMid), youngPts: pairs(areaSubjYoung),
  },
];

const SKETCH_X = [54, 189, 325, 459, 598];
const SKETCH_KIND = ["amp", "ttp", "fwhm", "slope", "area"] as const;

export default function App() {
  return (
    <div style={{ position: "absolute", left: 0, top: 0, width: 677, height: 356, background: "#fff", overflow: "hidden", fontFamily: FONT }}>
      {rowA.map((p, i) => <DepthPanel key={`a${i}`} p={p} big={false} />)}
      {rowB.map((p, i) => <DepthPanel key={`b${i}`} p={p} big />)}
      {SKETCH_X.map((x, i) => <HrfSketch key={`s${i}`} x={x} kind={SKETCH_KIND[i]} />)}
      <Legend top={7} />
      <Legend top={217} />
      <div style={{ position: "absolute", left: 1, top: -1, fontSize: 14, fontWeight: "bold", color: "#222" }}>a</div>
      <div style={{ position: "absolute", left: 1, top: 204, fontSize: 14, fontWeight: "bold", color: "#222" }}>b</div>
    </div>
  );
}
